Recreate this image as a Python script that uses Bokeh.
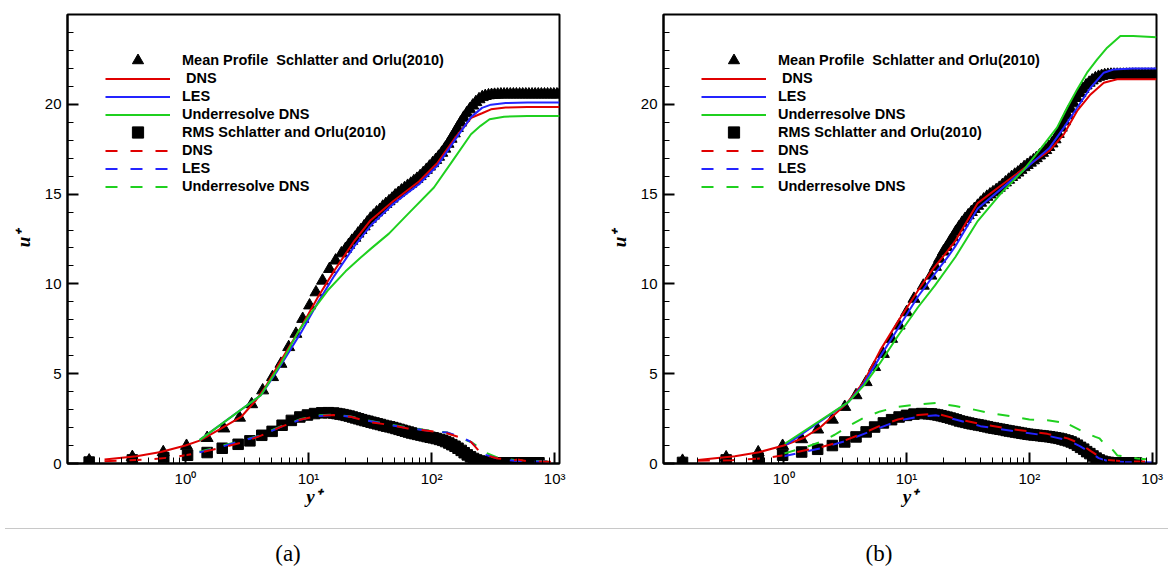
from bokeh.plotting import figure
from bokeh.models import FixedTicker, Legend, LegendItem, Div
from bokeh.layouts import row, column
from bokeh.embed import file_html
from bokeh.resources import INLINE

# ---------------- panel (a) ----------------
a_mean_ref_y = [0.165, 0.37, 0.66, 1.02, 1.5, 2.05, 2.75, 3.45, 4.24, 5.1, 5.97, 6.9, 7.9, 8.97,
                10.2, 11.5, 13.0, 14.8, 16.6, 18.5,
                20, 21.2, 22.5, 23.8, 25.2, 26.7, 28.3, 30, 31.8, 33.7, 35.7, 37.9, 40.1, 42.5,
                45.1, 47.8, 50.6, 53.7, 56.9, 60.3, 63.9, 67.8, 71.8, 76.1, 80.7, 85.5, 90.7, 96.1,
                102, 108, 114, 121, 128, 136, 144, 153, 162, 172, 182, 193, 204, 216, 229, 243, 258,
                273, 290, 307, 325, 345, 366, 388, 411, 436, 462, 489, 519, 550, 583, 618, 655, 694,
                736, 780, 827, 876, 929, 985, 1044, 1095]
a_mean_ref_u = [0.165, 0.36, 0.63, 0.98, 1.42, 1.95, 2.55, 3.3, 4.07, 4.81, 5.55, 6.48, 7.22, 8.05,
                8.8, 9.53, 10.18, 10.83, 11.3, 11.7,
                11.95, 12.17, 12.4, 12.57, 12.8, 13.0, 13.2, 13.42, 13.63, 13.8, 13.98, 14.12, 14.3,
                14.45, 14.6, 14.75, 14.92, 15.06, 15.2, 15.33, 15.46, 15.58, 15.72, 15.85, 16.0,
                16.17, 16.35, 16.53, 16.72, 16.9, 17.08, 17.3, 17.53, 17.8, 18.08, 18.38, 18.68,
                18.98, 19.25, 19.5, 19.72, 19.93, 20.12, 20.28, 20.4, 20.46, 20.5, 20.52, 20.53,
                20.54, 20.55, 20.55, 20.55, 20.55, 20.55, 20.55, 20.55, 20.55, 20.55, 20.55, 20.55,
                20.55, 20.55, 20.55, 20.55, 20.55, 20.55, 20.55, 20.55, 20.55]
a_rms_ref_y = [0.165, 0.37, 0.666, 1.04, 1.5, 1.99, 2.68, 3.34, 4.17, 5.06, 6.1, 7.25, 8.5, 9.8,
               11.2, 12.8, 14.5,
               16, 17, 18, 19.1, 20.2, 21.4, 22.7, 24.1, 25.5, 27, 28.7, 30.4, 32.2, 34.1, 36.2,
               38.3, 40.6, 43.1, 45.7, 48.4, 51.3, 54.4, 57.6, 61.1, 64.8, 68.6, 72.8, 77.1, 81.8,
               86.7, 91.9, 97.4, 103, 109, 116, 123, 130, 138, 146, 155, 164, 174, 184, 195, 207,
               219, 232, 246, 261, 277, 293, 311, 330, 350, 371, 393, 416, 441, 468, 496, 526, 557,
               591, 626, 664, 704, 746]
a_rms_ref_u = [0.08, 0.2, 0.33, 0.46, 0.61, 0.85, 1.07, 1.26, 1.57, 1.79, 2.13, 2.4, 2.59, 2.7,
               2.78, 2.82, 2.83,
               2.81, 2.78, 2.75, 2.72, 2.68, 2.64, 2.59, 2.54, 2.49, 2.44, 2.39, 2.35, 2.3, 2.26,
               2.21, 2.17, 2.12, 2.08, 2.04, 2.0, 1.95, 1.9, 1.85, 1.8, 1.75, 1.7, 1.66, 1.62, 1.58,
               1.54, 1.5, 1.46, 1.43, 1.39, 1.34, 1.29, 1.22, 1.14, 1.05, 0.96, 0.85, 0.73, 0.6,
               0.48, 0.37, 0.28, 0.2, 0.14, 0.1, 0.07, 0.06, 0.05, 0.04, 0.04, 0.04, 0.04, 0.04,
               0.04, 0.04, 0.04, 0.04, 0.04, 0.04, 0.04, 0.04, 0.04, 0.04]

a_dns_mean_y = [0.22, 0.4, 0.63, 1.0, 1.32, 1.94, 2.83, 3.74, 4.5, 5.97, 8.7, 11.9, 16.2, 23.6, 32,
                48.7, 79, 112, 158, 210, 257, 304, 400, 600, 1095]
a_dns_mean_u = [0.22, 0.4, 0.64, 1.0, 1.29, 1.94, 2.59, 3.52, 4.3, 5.74, 7.59, 9.26, 10.74, 12.4,
                13.55, 14.6, 15.7, 16.75, 18.2, 19.25, 19.5, 19.72, 19.82, 19.85, 19.85]
a_les_mean_y = [1.3, 4.1, 5.5, 8.7, 12, 16.2, 23.6, 32, 48.7, 79, 112, 158, 210, 257, 304, 400, 600, 1095]
a_les_mean_u = [1.3, 3.8, 5.1, 7.3, 9.0, 10.45, 12.1, 13.25, 14.45, 15.55, 16.6, 18.1, 19.3, 19.8,
                19.98, 20.07, 20.1, 20.1]
a_und_mean_y = [1.3, 4.1, 6.0, 8.2, 10, 14.3, 20, 26.7, 32, 45, 64.4, 104.5, 148, 209, 250, 296,
                388, 600, 1095]
a_und_mean_u = [1.3, 3.8, 5.6, 7.3, 8.2, 9.63, 10.7, 11.48, 11.95, 12.8, 13.9, 15.37, 16.85, 18.33,
                18.8, 19.17, 19.31, 19.35, 19.35]

a_dns_rms_y = [0.22, 0.5, 0.8, 1.3, 2.0, 3.0, 4.1, 6, 8.7, 12, 16, 22, 32, 47.5, 64, 100, 135, 170,
               209, 240, 275, 345, 470, 500, 600, 1000]
a_dns_rms_u = [0.12, 0.22, 0.35, 0.6, 0.9, 1.2, 1.55, 2.05, 2.45, 2.65, 2.7, 2.6, 2.3, 2.13, 1.95,
               1.8, 1.67, 1.45, 1.2, 0.74, 0.46, 0.28, 0.18, 0.22, 0.12, 0.1]
a_les_rms_y = [1.3, 2, 3, 4.1, 6, 8.7, 12, 16, 22, 32, 47.5, 64, 100, 135, 170, 209, 240, 275, 345,
               470, 600, 1000]
a_les_rms_u = [0.62, 0.95, 1.3, 1.55, 2.05, 2.45, 2.65, 2.7, 2.6, 2.35, 2.13, 1.97, 1.8, 1.72, 1.5,
               1.2, 0.8, 0.48, 0.28, 0.15, 0.12, 0.1]
a_und_rms_y = [1.3, 2, 3, 4.1, 6, 8.7, 12, 16, 22, 32, 47.5, 64, 100, 135, 162, 209, 240, 275, 345,
               470, 600, 1000]
a_und_rms_u = [0.65, 1.0, 1.3, 1.58, 2.08, 2.48, 2.68, 2.72, 2.62, 2.37, 2.15, 2.0, 1.82, 1.72,
               1.48, 1.2, 0.92, 0.6, 0.32, 0.2, 0.15, 0.12]

# ---------------- panel (b) ----------------
b_mean_ref_y = [0.15, 0.34, 0.62, 0.98, 1.4, 1.89, 2.49, 3.14, 3.88, 4.69, 5.5, 6.48, 7.56, 8.7,
                10.0, 11.5, 13.7, 15.8, 17.2, 18.6,
                20, 21.2, 22.5, 23.8, 25.2, 26.7, 28.3, 30, 31.8, 33.7, 35.7, 37.9, 40.1, 42.5,
                45.1, 47.8, 50.6, 53.7, 56.9, 60.3, 63.9, 67.8, 71.8, 76.1, 80.7, 85.5, 90.7, 96.1,
                102, 108, 114, 121, 128, 136, 144, 153, 162, 172, 182, 193, 204, 216, 229, 243, 258,
                273, 290, 307, 325, 345, 366, 388, 411, 436, 462, 489, 519, 550, 583, 618, 655, 694,
                736, 780, 827, 876, 929, 985, 1044, 1080]
b_mean_ref_u = [0.15, 0.34, 0.62, 0.98, 1.35, 1.89, 2.44, 3.15, 3.8, 4.53, 5.37, 6.1, 6.94, 7.68,
                8.42, 9.17, 9.9, 10.46, 10.95, 11.4,
                11.8, 12.05, 12.35, 12.6, 12.9, 13.15, 13.4, 13.62, 13.82, 14.0, 14.17, 14.35, 14.52,
                14.7, 14.85, 14.98, 15.1, 15.22, 15.35, 15.5, 15.65, 15.8, 15.95, 16.08, 16.2, 16.35,
                16.5, 16.62, 16.75, 16.88, 17.0, 17.15, 17.3, 17.45, 17.62, 17.82, 18.05, 18.35,
                18.7, 19.05, 19.4, 19.75, 20.05, 20.35, 20.62, 20.85, 21.05, 21.2, 21.33, 21.45,
                21.53, 21.58, 21.62, 21.64, 21.65, 21.65, 21.65, 21.65, 21.65, 21.65, 21.65, 21.65,
                21.65, 21.65, 21.65, 21.65, 21.65, 21.65, 21.65, 21.65]
b_rms_ref_y = [0.15, 0.34, 0.62, 0.98, 1.4, 1.89, 2.49, 3.14, 3.88, 4.69, 5.5, 6.48, 7.56, 8.7, 10,
               11.5, 13.3, 15.0,
               16, 17, 18, 19.1, 20.2, 21.4, 22.7, 24.1, 25.5, 27, 28.7, 30.4, 32.2, 34.1, 36.2,
               38.3, 40.6, 43.1, 45.7, 48.4, 51.3, 54.4, 57.6, 61.1, 64.8, 68.6, 72.8, 77.1, 81.8,
               86.7, 91.9, 97.4, 103, 109, 116, 123, 130, 138, 146, 155, 164, 174, 184, 195, 207,
               219, 232, 246, 261, 277, 293, 311, 330, 350, 371, 393, 416, 441, 468, 496, 526, 557,
               591, 626, 664, 704, 746]
b_rms_ref_u = [0.06, 0.2, 0.3, 0.46, 0.64, 0.79, 1.0, 1.2, 1.48, 1.76, 2.03, 2.26, 2.44, 2.59, 2.68,
               2.75, 2.78, 2.77,
               2.76, 2.73, 2.7, 2.66, 2.62, 2.58, 2.53, 2.48, 2.43, 2.37, 2.33, 2.29, 2.25, 2.21,
               2.18, 2.15, 2.12, 2.08, 2.04, 2.0, 1.97, 1.94, 1.91, 1.88, 1.84, 1.81, 1.78, 1.75,
               1.72, 1.69, 1.66, 1.63, 1.61, 1.59, 1.57, 1.55, 1.53, 1.51, 1.49, 1.46, 1.43, 1.4,
               1.36, 1.31, 1.26, 1.2, 1.12, 1.02, 0.9, 0.8, 0.66, 0.55, 0.42, 0.3, 0.2, 0.13, 0.08,
               0.06, 0.04, 0.03, 0.03, 0.03, 0.03, 0.03, 0.03, 0.03, 0.03]

b_dns_mean_y = [0.2, 0.4, 0.63, 1.0, 1.45, 2.0, 3.24, 4.5, 6.1, 8.5, 12.4, 16.5, 21.7, 25, 38, 58,
                100, 145, 191, 245, 315, 404, 519, 700, 1085]
b_dns_mean_u = [0.2, 0.4, 0.63, 1.0, 1.42, 2.03, 3.33, 4.55, 6.3, 7.9, 9.63, 10.85, 11.85, 12.4,
                14.5, 15.45, 16.65, 17.4, 18.33, 19.63, 20.55, 21.2, 21.39, 21.4, 21.4]
b_les_mean_y = [1.05, 3.36, 4.5, 6.1, 8.5, 12.4, 16.5, 21.7, 25, 38, 58, 100, 145, 191, 245, 315,
                404, 484, 700, 1085]
b_les_mean_u = [1.05, 3.42, 4.45, 5.95, 7.5, 9.3, 10.45, 11.5, 12.1, 14.2, 15.25, 16.6, 17.55, 18.7,
                19.81, 20.92, 21.76, 21.94, 22.0, 22.0]
b_und_mean_y = [1.02, 3.36, 4.5, 6.1, 8.5, 12.4, 17, 25, 38, 58, 88.7, 126, 168, 203, 245, 295,
                357, 430, 551, 700, 1085]
b_und_mean_u = [1.1, 3.42, 4.35, 5.6, 7.1, 8.7, 9.9, 11.5, 13.5, 15.0, 16.3, 17.6, 18.7, 19.81,
                20.83, 21.76, 22.5, 23.15, 23.8, 23.8, 23.74]

b_dns_rms_y = [0.2, 0.38, 0.7, 1.0, 1.5, 2.0, 3.2, 4.5, 6.1, 8.5, 12.4, 17.5, 25, 40, 75, 140, 205,
               260, 315, 367, 430, 600, 1000]
b_dns_rms_u = [0.15, 0.18, 0.3, 0.46, 0.74, 0.9, 1.3, 1.7, 2.1, 2.45, 2.7, 2.78, 2.5, 2.2, 1.9,
               1.65, 1.4, 1.1, 0.7, 0.4, 0.2, 0.12, 0.1]
b_les_rms_y = [1.0, 2.0, 3.2, 4.5, 6.1, 8.5, 12.4, 17.5, 25, 40, 75, 140, 205, 260, 315, 367, 430,
               600, 1000]
b_les_rms_u = [0.4, 0.85, 1.25, 1.65, 2.0, 2.38, 2.6, 2.68, 2.45, 2.08, 1.8, 1.55, 1.3, 0.95, 0.6,
               0.3, 0.15, 0.08, 0.06]
b_und_rms_y = [1.0, 1.5, 2.0, 2.6, 3.5, 4.5, 6.1, 8.5, 12.4, 17.5, 25, 35.5, 50, 77, 100, 145, 180,
               195, 213, 295, 345, 373, 430, 480, 520, 760, 1000]
b_und_rms_u = [0.55, 0.9, 1.2, 1.6, 2.15, 2.55, 2.9, 3.15, 3.29, 3.37, 3.2, 3.0, 2.78, 2.59, 2.45,
               2.4, 2.3, 2.4, 2.15, 1.67, 1.48, 1.4, 0.9, 0.74, 0.45, 0.28, 0.2]

# ---------------- text ----------------
legend_labels = ["Mean Profile  Schlatter and Orlu(2010)", " DNS", "LES", "Underresolve DNS",
                 "RMS Schlatter and Orlu(2010)", "DNS", "LES", "Underresolve DNS"]
x_major = [1, 10, 100, 1000]
x_major_labels = ["10\u2070", "10\u00b9", "10\u00b2", "10\u00b3"]
y_major = [0, 5, 10, 15, 20]
captions = ["(a)", "(b)"]

RED = "#e00000"
BLUE = "#2424ff"
GREEN = "#1fd01f"
DASH = "12 13"


def make_panel(xr, fw, bl, br, d):
    p = figure(x_axis_type="log", x_range=xr, y_range=(0, 25),
               frame_width=fw, frame_height=449,
               min_border_left=bl, min_border_right=br, min_border_top=14, min_border_bottom=55,
               output_backend="svg", toolbar_location=None)
    p.xgrid.visible = False
    p.ygrid.visible = False
    p.outline_line_color = "black"
    p.outline_line_width = 2
    p.outline_line_alpha = 1

    minor_x = [m * 10.0 ** e for e in (-1, 0, 1, 2) for m in range(2, 10)]
    p.xaxis.ticker = FixedTicker(ticks=x_major, minor_ticks=minor_x)
    p.yaxis.ticker = FixedTicker(ticks=y_major, minor_ticks=list(range(1, 25)))
    p.xaxis.major_label_overrides = {float(v): s for v, s in zip(x_major, x_major_labels)}
    for ax in (p.xaxis, p.yaxis):
        ax.axis_line_width = 2
        ax.axis_line_color = "black"
        ax.major_tick_in = 11
        ax.major_tick_out = 0
        ax.minor_tick_in = 6
        ax.minor_tick_out = 0
        ax.major_tick_line_width = 2
        ax.minor_tick_line_width = 1
        ax.major_tick_line_color = "black"
        ax.minor_tick_line_color = "black"
        ax.major_label_text_font = "Liberation Sans"
        ax.major_label_text_font_size = "15px"
        ax.major_label_text_color = "black"
        ax.major_label_standoff = 6
        ax.axis_label_text_font = "Liberation Serif"
        ax.axis_label_text_font_style = "bold italic"
        ax.axis_label_text_font_size = "19px"
        ax.axis_label_text_color = "black"
    p.xaxis.axis_label = "y\u207a"
    p.yaxis.axis_label = "u\u207a"
    p.xaxis.axis_label_standoff = -4
    p.yaxis.axis_label_standoff = 8

    r_mean = p.scatter(d["mean_ref_y"], d["mean_ref_u"], marker="triangle", size=12,
                       fill_color="black", line_color="black")
    r_rms = p.scatter(d["rms_ref_y"], d["rms_ref_u"], marker="square", size=10.5,
                      fill_color="black", line_color="black")
    r1 = p.line(d["dns_mean_y"], d["dns_mean_u"], line_color=RED, line_width=2)
    r2 = p.line(d["les_mean_y"], d["les_mean_u"], line_color=BLUE, line_width=2)
    r3 = p.line(d["und_mean_y"], d["und_mean_u"], line_color=GREEN, line_width=2)
    r6 = p.line(d["und_rms_y"], d["und_rms_u"], line_color=GREEN, line_width=2, line_dash=DASH)
    r5 = p.line(d["les_rms_y"], d["les_rms_u"], line_color=BLUE, line_width=2, line_dash=DASH)
    r4 = p.line(d["dns_rms_y"], d["dns_rms_u"], line_color=RED, line_width=2, line_dash=DASH)

    renderers = [r_mean, r1, r2, r3, r_rms, r4, r5, r6]
    items = [LegendItem(label=lab, renderers=[r]) for lab, r in zip(legend_labels, renderers)]
    common = dict(margin=0, glyph_width=65, label_height=15, label_standoff=12,
                  label_text_font="Liberation Sans", label_text_font_style="bold",
                  label_text_font_size="14.5px", label_text_color="black",
                  background_fill_alpha=0, border_line_alpha=0)
    leg = Legend(items=items, location="top_left", padding=38, glyph_height=15, spacing=2, **common)
    p.add_layout(leg)
    # larger marker symbols for the two marker entries (overlaid on rows 1 and 5)
    mk_items = [LegendItem(label=" ", renderers=[r_mean]), LegendItem(label=" ", renderers=[r_rms])]
    leg2 = Legend(items=mk_items, location=(38, 317), padding=0, glyph_height=28, spacing=44, **common)
    p.add_layout(leg2)
    return p


da = dict(mean_ref_y=a_mean_ref_y, mean_ref_u=a_mean_ref_u, rms_ref_y=a_rms_ref_y, rms_ref_u=a_rms_ref_u,
          dns_mean_y=a_dns_mean_y, dns_mean_u=a_dns_mean_u, les_mean_y=a_les_mean_y, les_mean_u=a_les_mean_u,
          und_mean_y=a_und_mean_y, und_mean_u=a_und_mean_u, dns_rms_y=a_dns_rms_y, dns_rms_u=a_dns_rms_u,
          les_rms_y=a_les_rms_y, les_rms_u=a_les_rms_u, und_rms_y=a_und_rms_y, und_rms_u=a_und_rms_u)
db = dict(mean_ref_y=b_mean_ref_y, mean_ref_u=b_mean_ref_u, rms_ref_y=b_rms_ref_y, rms_ref_u=b_rms_ref_u,
          dns_mean_y=b_dns_mean_y, dns_mean_u=b_dns_mean_u, les_mean_y=b_les_mean_y, les_mean_u=b_les_mean_u,
          und_mean_y=b_und_mean_y, und_mean_u=b_und_mean_u, dns_rms_y=b_dns_rms_y, dns_rms_u=b_dns_rms_u,
          les_rms_y=b_les_rms_y, les_rms_u=b_les_rms_u, und_rms_y=b_und_rms_y, und_rms_u=b_und_rms_u)

pa = make_panel((0.11, 1095), 492, 67, 40, da)
pb = make_panel((0.105, 1085), 493, 64, 12, db)

cap_html = (
    '<div style="position:relative;width:1168px;height:36px;margin-top:5px;'
    'border-top:1px solid #c8c8c8;font-family:\'Liberation Serif\',serif;font-size:23px;color:#000;">'
    '<span style="position:absolute;left:263px;top:9px;width:40px;text-align:center;">%s</span>'
    '<span style="position:absolute;left:854px;top:9px;width:40px;text-align:center;">%s</span>'
    '</div>' % (captions[0], captions[1])
)
cap = Div(text=cap_html, width=1168, height=41)

layout = column(row(pa, pb), cap)
open("out.html", "w").write(file_html(layout, INLINE))
